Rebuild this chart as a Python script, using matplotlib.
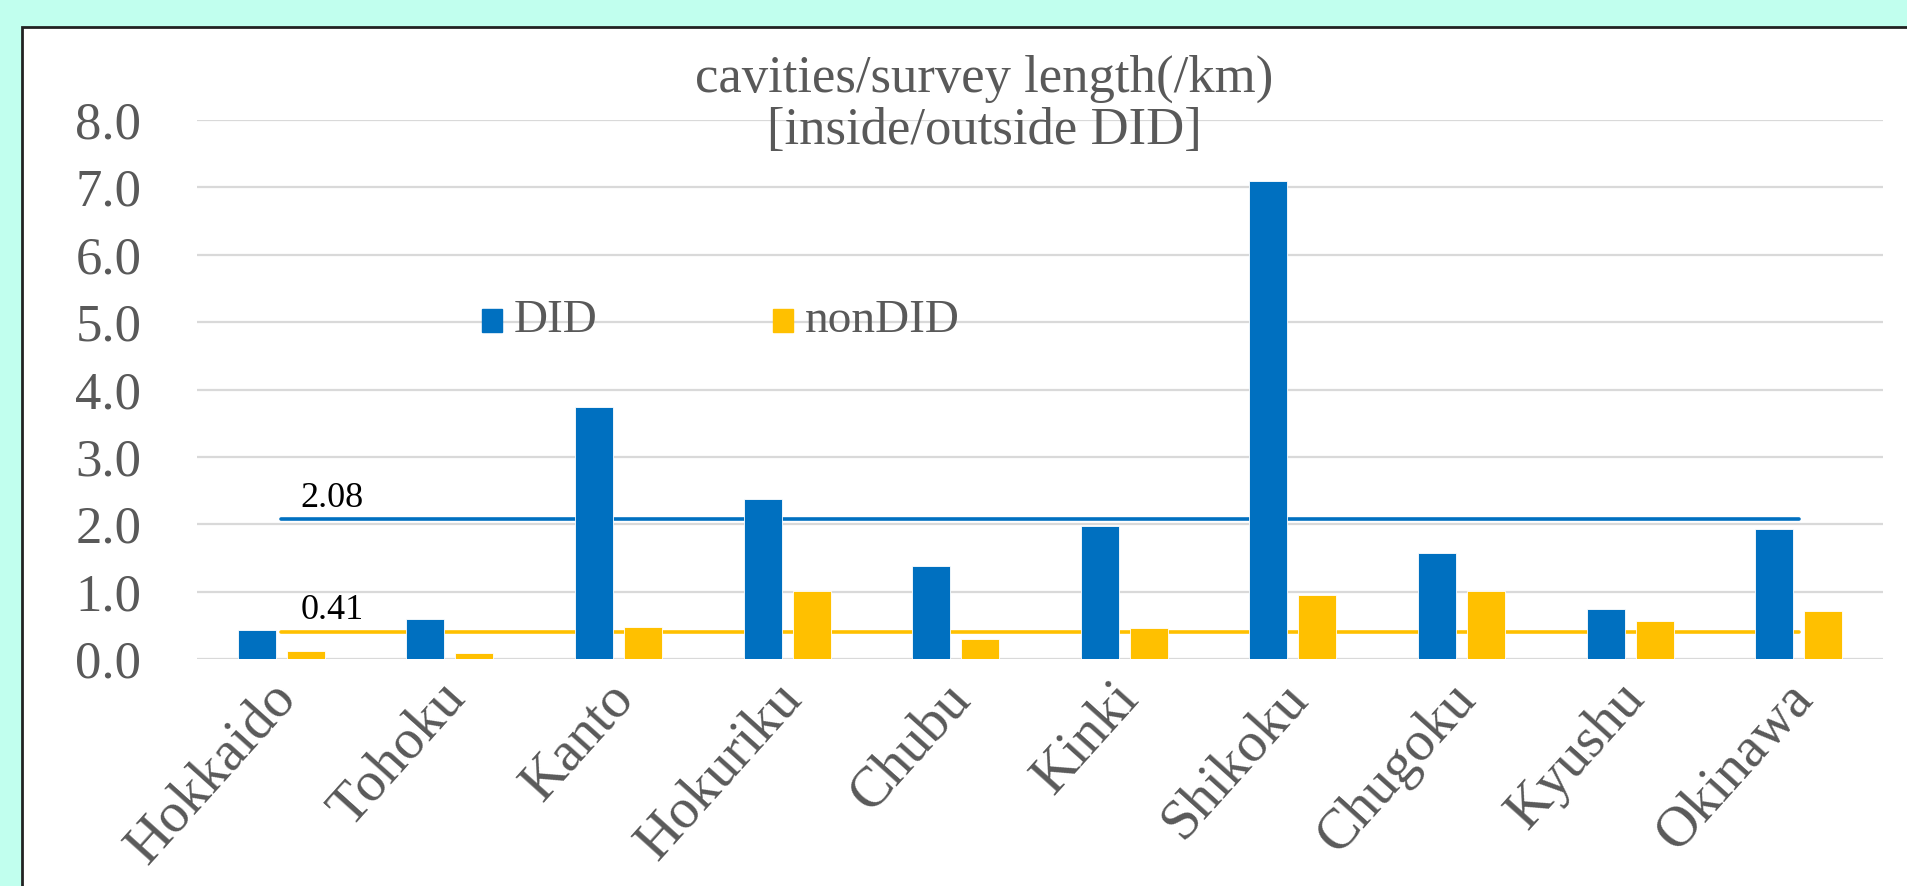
import matplotlib.pyplot as plt
import numpy as np
from matplotlib.patches import Rectangle
from matplotlib.transforms import ScaledTranslation

plt.rcParams['font.family'] = ['Liberation Serif', 'DejaVu Serif']

regions = ["Hokkaido", "Tohoku", "Kanto", "Hokuriku", "Chubu",
           "Kinki", "Shikoku", "Chugoku", "Kyushu", "Okinawa"]
did = [0.44, 0.60, 3.74, 2.38, 1.38, 1.98, 7.10, 1.57, 0.75, 1.94]
nondid = [0.12, 0.10, 0.48, 1.01, 0.30, 0.47, 0.96, 1.02, 0.57, 0.72]
did_avg = 2.08
nondid_avg = 0.41

BLUE = "#0070C0"
YELLOW = "#FFC000"
GRAY = "#595959"

fig = plt.figure(figsize=(19.07, 8.86), dpi=100)
fig.patch.set_facecolor("#C1FFEE")
# white chart area with dark border, runs off the right/bottom edges
fig.patches.append(Rectangle((22 / 1907, -0.2), 1.2, 0.2 + 1 - 27 / 886,
                             transform=fig.transFigure, facecolor="white",
                             edgecolor="#222222", lw=2, zorder=-10))

ax = fig.add_axes([197 / 1907, 226.7 / 886, (1883 - 197) / 1907, 539.3 / 886])
ax.set_facecolor("none")

x = np.arange(len(regions))
w = 0.225
ax.bar(x - 0.145, did, w, color=BLUE, edgecolor="white", lw=0.6, zorder=3)
ax.bar(x + 0.145, nondid, w, color=YELLOW, edgecolor="white", lw=0.6, zorder=3)

ax.plot(x, [did_avg] * len(x), color=BLUE, lw=2.6, solid_capstyle="round", zorder=2)
ax.plot(x, [nondid_avg] * len(x), color=YELLOW, lw=2.6, solid_capstyle="round", zorder=2)
for v in (did_avg, nondid_avg):
    ax.annotate(f"{v:.2f}", (x[0], v), xytext=(14, 9), textcoords="offset points",
                ha="left", va="baseline", fontsize=26, color="black")

ax.set_xlim(-0.5, len(regions) - 0.5)
ax.set_ylim(0, 8)
ax.set_yticks(np.arange(0, 9, 1.0))
ax.set_yticklabels([f"{t:.1f}" for t in np.arange(0, 9, 1.0)])
ax.grid(axis="y", color="#D9D9D9", lw=1.6, zorder=0)
ax.set_axisbelow(True)
for s in ax.spines.values():
    s.set_visible(False)
ax.tick_params(axis="y", length=0, pad=40, labelsize=38, labelcolor=GRAY)
ax.tick_params(axis="x", length=0, pad=22, labelsize=41, labelcolor=GRAY)
ax.set_xticks(x)
ax.set_xticklabels(regions, rotation=48, ha="right", va="center",
                   rotation_mode="anchor")
shift = ScaledTranslation(6 / 100, 0, fig.dpi_scale_trans)
for lab in ax.get_xticklabels():
    lab.set_transform(lab.get_transform() + shift)

# legend placed inside plot like the original
leg_y = 5.02
for (lx, label, c) in [(482, "DID", BLUE), (773, "nonDID", YELLOW)]:
    xd = (lx - 197) / 168.6 - 0.5
    ax.add_patch(Rectangle((xd, leg_y - 0.17), 20 / 168.6, 0.34, color=c,
                           zorder=4, clip_on=False))
    ax.text(xd + 32 / 168.6, leg_y, label, fontsize=34, color=GRAY,
            va="center", ha="left", zorder=4)

fig.text(984 / 1907, 1 - 79 / 886, "cavities/survey length(/km)", ha="center",
         va="center", fontsize=38, color=GRAY)
fig.text(984 / 1907, 1 - 131 / 886, "[inside/outside DID]", ha="center",
         va="center", fontsize=38, color=GRAY)

fig.savefig("out.png", dpi=100, facecolor=fig.get_facecolor())
